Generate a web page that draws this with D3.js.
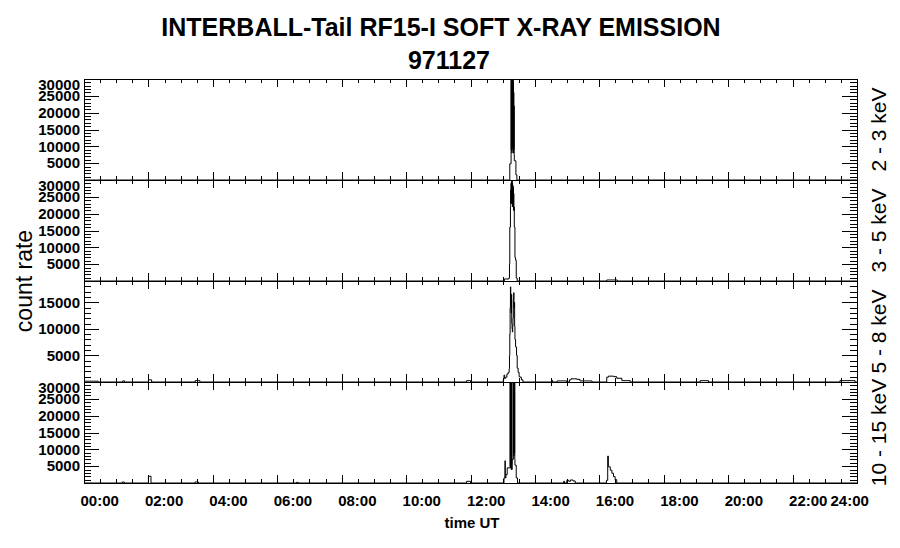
<!DOCTYPE html>
<html>
<head>
<meta charset="utf-8">
<script src="https://cdn.jsdelivr.net/npm/d3@7"></script>
<style>
body{margin:0;background:#fff}
text{font-family:"Liberation Sans",Arial,sans-serif}
</style>
</head>
<body>
<script>
var title1="INTERBALL-Tail RF15-I SOFT X-RAY EMISSION";
var title2="971127";
var yTitle="count rate";
var xTitle="time UT";
var channelNames=["2 - 3 keV","3 - 5 keV","5 - 8 keV","10 - 15 keV"];
var yMax=[30000,30000,19000,30000];
var xMajor=[0,2,4,6,8,10,12,14,16,18,20,22,24];
var xLabels=["00:00","02:00","04:00","06:00","08:00","10:00","12:00","14:00","16:00","18:00","20:00","22:00","24:00"];

// [hour, counts] pairs, step data (value holds until next point)
var ch1=[[0,0],[13.20,0],[13.22,4800],[13.26,31000],[13.265,9000],[13.27,29000],[13.275,12000],[13.28,31000],[13.285,8000],
 [13.29,27000],[13.295,14000],[13.30,18000],[13.305,10000],[13.31,31000],[13.315,9000],[13.32,30000],[13.325,12000],
 [13.33,29000],[13.335,8000],[13.34,26000],[13.345,9000],[13.35,22000],[13.355,7500],[13.36,5700],[13.41,1500],[13.44,0],[24,0]];

var ch2=[[0,0],[13.05,600],[13.19,900],[13.21,5000],[13.22,16000],[13.24,22000],[13.25,27000],[13.255,23000],[13.26,29000],
 [13.265,24000],[13.27,29500],[13.275,23000],[13.28,29000],[13.285,24000],[13.29,30000],[13.295,23500],[13.30,29000],
 [13.305,22000],[13.31,28500],[13.315,23000],[13.32,28000],[13.325,22000],[13.33,27500],[13.335,21000],[13.34,26000],
 [13.345,21000],[13.35,22000],[13.36,16000],[13.38,7000],[13.40,6200],[13.42,900],[13.45,0],[16.23,300],[16.56,0],[24,0]];

var ch3=[[0,150],[0.44,0],[1.20,200],[1.26,0],[2.00,400],[2.10,0],[3.45,250],[3.60,0],[11.88,250],[12.00,0],
 [13.02,500],[13.04,1300],[13.06,700],[13.09,900],[13.13,1500],[13.17,1800],[13.20,2500],[13.21,5000],[13.22,9000],
 [13.23,14000],[13.24,17900],[13.25,16000],[13.26,13000],[13.27,16500],[13.28,11000],[13.29,10000],[13.30,9400],
 [13.31,10500],[13.32,12000],[13.33,15500],[13.34,16800],[13.35,14000],[13.36,15000],[13.37,10500],[13.38,8000],
 [13.40,6600],[13.43,5000],[13.45,2600],[13.48,1800],[13.51,1000],[13.54,900],[13.58,400],[13.63,0],
 [14.52,300],[14.55,0],[14.69,200],[14.99,0],[15.07,400],[15.12,600],[15.30,500],[15.40,200],[15.77,0],
 [16.23,900],[16.28,1100],[16.45,1000],[16.54,700],[16.70,250],[16.96,0],[19.13,250],[19.39,0],[23.47,250],[23.94,0],[24,0]];

var ch4=[[0,0],[1.19,300],[1.25,0],[2.00,2000],[2.08,0],[3.45,300],[3.55,0],[6.60,200],[6.65,0],[11.88,500],[12.00,0],
 [13.04,1500],[13.07,6600],[13.08,1500],[13.10,2500],[13.14,4500],[13.23,31000],[13.235,5000],[13.24,31000],[13.245,4500],
 [13.25,31000],[13.255,6000],[13.26,31000],[13.265,4000],[13.27,31000],[13.275,5500],[13.28,31000],[13.285,4000],
 [13.29,7000],[13.33,31000],[13.335,9000],[13.34,31000],[13.345,8000],[13.35,31000],[13.355,10000],[13.36,31000],
 [13.365,9000],[13.37,31000],[13.375,7000],[13.38,5300],[13.42,1500],[13.46,0],[14.89,500],[14.92,0],[14.99,800],
 [15.05,500],[15.10,900],[15.18,600],[15.25,0],[16.22,800],[16.26,8000],[16.28,4800],[16.34,3800],[16.39,2900],
 [16.44,1900],[16.49,1000],[16.54,0],[24,0]];

var series=[ch1,ch2,ch3,ch4];

var W=900,H=548;
var left=84,right=857,top0=79,panelH=101;
var font="Liberation Sans, Arial, sans-serif";

var svg=d3.select("body").append("svg").attr("width",W).attr("height",H);

svg.append("text").attr("x",441).attr("y",36).attr("text-anchor","middle")
 .style("font-size","25px").style("font-weight","bold").text(title1);
svg.append("text").attr("x",449).attr("y",69).attr("text-anchor","middle")
 .style("font-size","25px").style("font-weight","bold").text(title2);

var x=d3.scaleLinear().domain([0,24]).range([left,right]);
var xMinor=d3.range(0,24.01,0.5).filter(d=>d%2!=0);

function ax(axis,tx,ty){
	return svg.append("g").attr("transform","translate("+tx+","+ty+")")
	 .attr("shape-rendering","crispEdges").call(axis);
}

series.forEach(function(data,i){
	var top=top0+i*panelH, bottom=top+panelH;
	var y=d3.scaleLinear().domain([0,yMax[i]]).range([bottom,top]);

	svg.append("clipPath").attr("id","clip"+i).append("rect")
	 .attr("x",left).attr("y",top).attr("width",right-left).attr("height",panelH);

	var line=d3.line().x(d=>x(d[0])).y(d=>y(d[1])).curve(d3.curveStepAfter);
	svg.append("path").datum(data).attr("clip-path","url(#clip"+i+")")
	 .attr("fill","none").attr("stroke","black").attr("stroke-width",1)
	 .attr("d",line);

	var yMajor=d3.range(5000,yMax[i]+1,5000);
	var yMinor=d3.range(1000,yMax[i]+1,1000).filter(d=>d%5000!=0);

	ax(d3.axisBottom(x).tickValues(xMajor).tickSize(-8).tickSizeOuter(0).tickFormat(""),0,bottom);
	ax(d3.axisBottom(x).tickValues(xMinor).tickSize(-4).tickSizeOuter(0).tickFormat(""),0,bottom);
	ax(d3.axisTop(x).tickValues(xMajor).tickSize(-8).tickSizeOuter(0).tickFormat(""),0,top);
	ax(d3.axisTop(x).tickValues(xMinor).tickSize(-4).tickSizeOuter(0).tickFormat(""),0,top);
	ax(d3.axisRight(y).tickValues(yMinor).tickSize(-7).tickSizeOuter(0).tickFormat(""),right,0);
	ax(d3.axisRight(y).tickValues(yMajor).tickSize(-15).tickSizeOuter(0).tickFormat(""),right,0);
	ax(d3.axisLeft(y).tickValues(yMinor).tickSize(-7).tickSizeOuter(0).tickFormat(""),left,0);
	var yl=ax(d3.axisLeft(y).tickValues(yMajor).tickSize(-15).tickSizeOuter(0).tickPadding(4)
	 .tickFormat(d3.format("d")),left,0);
	yl.attr("font-size",15).attr("font-weight","bold").attr("font-family",font);
	// keep top label inside the panel like the original
	yl.selectAll(".tick text").attr("y",d=>Math.max(0,top+6-y(d)));

	svg.append("text").attr("transform","translate(886,"+(top+panelH/2)+") rotate(-90)")
	 .attr("text-anchor","middle").style("font-size","21px").text(channelNames[i]);

	if(i==series.length-1){
		var xl=ax(d3.axisBottom(x).tickValues(xMajor).tickSize(0).tickPadding(12)
		 .tickFormat((d,k)=>xLabels[k]),0,bottom);
		xl.select(".domain").remove();
		xl.attr("font-size",15).attr("font-weight","bold").attr("font-family",font);
		// labels sit to the right of their ticks, the last one kept inside the frame edge
		xl.selectAll(".tick text").attr("text-anchor","start").attr("x",d=>d==24?-27:-4);
	}
});

svg.append("text").attr("transform","translate(32,"+(top0+2*panelH)+") rotate(-90)")
 .attr("text-anchor","middle").style("font-size","23px").text(yTitle);
svg.append("text").attr("x",472).attr("y",528).attr("text-anchor","middle")
 .style("font-size","15px").style("font-weight","bold").text(xTitle);
</script>
</body>
</html>
